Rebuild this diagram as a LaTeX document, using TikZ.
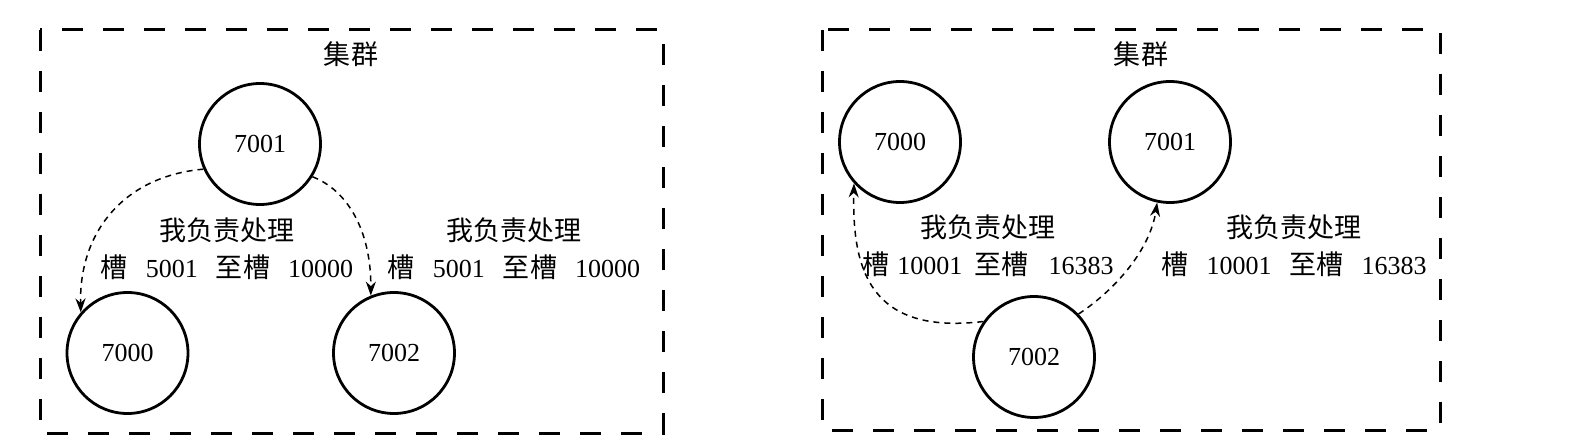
\documentclass[tikz,border=0pt]{standalone}
\usepackage{fontspec}
\setmainfont{Liberation Serif}
\newfontfamily\cjk{Noto Sans CJK SC}[Scale=1.04]
\usetikzlibrary{arrows.meta}
\begin{document}
\begin{tikzpicture}[x=0.5pt,y=-0.5pt,
  server/.style={draw, circle, line width=1.4pt, minimum size=60.5pt, inner sep=0pt, font=\fontsize{13}{15}\selectfont},
  cluster/.style={draw, line width=1.5pt, dash pattern=on 10.5pt off 10pt},
  link/.style={draw, line width=0.75pt, dash pattern=on 3pt off 2.5pt, -{Stealth[length=7pt,width=5pt]}},
  title/.style={font=\cjk\fontsize{13}{15}\selectfont},
  slotlabel/.style={font=\fontsize{13}{18.5}\selectfont, align=center, inner sep=0pt}]
\useasboundingbox (0,0) rectangle (1588,448);
\fill[white] (0,0) rectangle (1588,448);

% ---------- left panel ----------
\draw[cluster] (40,30) rectangle (663,433);
\node[title] (Ltitle) at (351,54) {集群};
\node[server] (L1) at (260,144) {7001};
\node[server] (L0) at (127.5,353) {7000};
\node[server] (L2) at (394,353) {7002};
\node[slotlabel] (La) at (227,248.5) {{\cjk 我负责处理}\\{\cjk 槽}\hspace{9pt}5001\hspace{9pt}{\cjk 至槽}\hspace{9pt}10000};
\node[slotlabel] (Lb) at (514,248.5) {{\cjk 我负责处理}\\{\cjk 槽}\hspace{9pt}5001\hspace{9pt}{\cjk 至槽}\hspace{9pt}10000};
\draw[link] (L1.204) .. controls (125,176) and (79,231) .. (L0.139);
\draw[link] (L1.328) .. controls (347,190) and (371,230) .. (L2.112);

% ---------- right panel ----------
\draw[cluster] (822,30) rectangle (1440,430);
\node[title] (Rtitle) at (1141,54) {集群};
\node[server] (R0) at (900,142) {7000};
\node[server] (R1) at (1170,142) {7001};
\node[server] (R2) at (1034,357) {7002};
\node[slotlabel] (Ra) at (988,246) {{\cjk 我负责处理}\\{\cjk 槽}\hspace{4pt}10001\hspace{6pt}{\cjk 至槽}\hspace{10pt}16383};
\node[slotlabel] (Rb) at (1294,246) {{\cjk 我负责处理}\\{\cjk 槽}\hspace{9pt}10001\hspace{9pt}{\cjk 至槽}\hspace{9pt}16383};
\draw[link] (R2.145) .. controls (870,335) and (852,270) .. (R0.222);
\draw[link] (R2.44) .. controls (1115,290) and (1150,250) .. (R1.258);
\end{tikzpicture}
\end{document}
